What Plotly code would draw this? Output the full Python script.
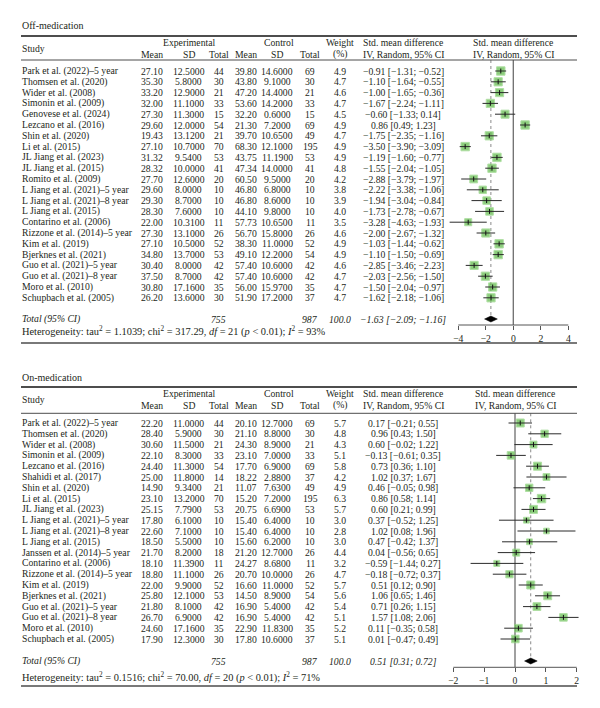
import plotly.graph_objects as go
import numpy as np

# ---------------- data: Off-medication ----------------
off_study = ["Park et al. (2022)–5 year", "Thomsen et al. (2020)", "Wider et al. (2008)",
             "Simonin et al. (2009)", "Genovese et al. (2024)", "Lezcano et al. (2016)",
             "Shin et al. (2020)", "Li et al. (2015)", "JL Jiang et al. (2023)",
             "JL Jiang et al. (2015)", "Romito et al. (2009)", "L Jiang et al. (2021)–5 year",
             "L Jiang et al. (2021)–8 year", "L Jiang et al. (2015)", "Contarino et al. (2006)",
             "Rizzone et al. (2014)–5 year", "Kim et al. (2019)", "Bjerknes et al. (2021)",
             "Guo et al. (2021)–5 year", "Guo et al. (2021)–8 year", "Moro et al. (2010)",
             "Schupbach et al. (2005)"]
off_exp_mean = [27.10, 35.30, 33.20, 32.00, 27.30, 29.60, 19.43, 27.10, 31.32, 28.32, 27.70,
                29.60, 29.30, 28.30, 22.00, 27.30, 27.10, 34.80, 30.40, 37.50, 30.80, 26.20]
off_exp_sd = [12.5, 5.8, 12.9, 11.1, 11.3, 12.0, 13.12, 10.7, 9.54, 10.0, 12.6,
              8.0, 8.7, 7.6, 10.31, 13.1, 10.5, 13.7, 8.0, 8.7, 17.16, 13.6]
off_exp_n = [44, 30, 21, 33, 15, 54, 21, 70, 53, 41, 20, 10, 10, 10, 11, 26, 52, 53, 42, 42, 35, 30]
off_ctl_mean = [39.80, 43.80, 47.20, 53.60, 32.20, 21.30, 39.70, 68.30, 43.75, 47.34, 60.50,
                46.80, 46.80, 44.10, 57.73, 56.70, 38.30, 49.10, 57.40, 57.40, 56.00, 51.90]
off_ctl_sd = [14.6, 9.1, 14.4, 14.2, 0.6, 7.2, 10.65, 12.1, 11.19, 14.0, 9.5,
              6.8, 8.6, 9.8, 10.65, 15.8, 11.0, 12.2, 10.6, 10.6, 15.97, 17.2]
off_ctl_n = [69, 30, 21, 33, 15, 69, 49, 195, 53, 41, 20, 10, 10, 10, 11, 26, 52, 54, 42, 42, 35, 37]
off_weight = [4.9, 4.7, 4.6, 4.7, 4.5, 4.9, 4.7, 4.9, 4.9, 4.8, 4.2,
              3.8, 3.9, 4.0, 3.5, 4.6, 4.9, 4.9, 4.6, 4.7, 4.7, 4.7]
off_smd = [-0.91, -1.10, -1.00, -1.67, -0.60, 0.86, -1.75, -3.50, -1.19, -1.55, -2.88,
           -2.22, -1.94, -1.73, -3.28, -2.00, -1.03, -1.10, -2.85, -2.03, -1.50, -1.62]
off_lo = [-1.31, -1.64, -1.65, -2.24, -1.33, 0.49, -2.35, -3.90, -1.60, -2.04, -3.79,
          -3.38, -3.04, -2.78, -4.63, -2.67, -1.44, -1.50, -3.46, -2.56, -2.04, -2.18]
off_hi = [-0.52, -0.55, -0.36, -1.11, 0.14, 1.23, -1.16, -3.09, -0.77, -1.05, -1.97,
          -1.06, -0.84, -0.67, -1.93, -1.32, -0.62, -0.69, -2.23, -1.50, -0.97, -1.06]
off_total = dict(n_exp=755, n_ctl=987, weight=100.0, est=-1.63, lo=-2.09, hi=-1.16)
off_het = dict(tau2="1.1039", chi2="317.29", df=21, p="0.01", i2=93)
off_ticks = [-4, -2, 0, 2, 4]

# ---------------- data: On-medication ----------------
on_study = ["Park et al. (2022)–5 year", "Thomsen et al. (2020)", "Wider et al. (2008)",
            "Simonin et al. (2009)", "Lezcano et al. (2016)", "Shahidi et al. (2017)",
            "Shin et al. (2020)", "Li et al. (2015)", "JL Jiang et al. (2023)",
            "L Jiang et al. (2021)–5 year", "L Jiang et al. (2021)–8 year", "L Jiang et al. (2015)",
            "Janssen et al. (2014)–5 year", "Contarino et al. (2006)", "Rizzone et al. (2014)–5 year",
            "Kim et al. (2019)", "Bjerknes et al. (2021)", "Guo et al. (2021)–5 year",
            "Guo et al. (2021)–8 year", "Moro et al. (2010)", "Schupbach et al. (2005)"]
on_exp_mean = [22.20, 28.40, 30.60, 22.10, 24.40, 25.00, 14.90, 23.10, 25.15, 17.80, 22.60,
               18.50, 21.70, 18.10, 18.80, 22.00, 25.80, 21.80, 26.70, 24.60, 17.90]
on_exp_sd = [11.0, 5.9, 11.5, 8.3, 11.3, 11.8, 9.34, 13.2, 7.79, 6.1, 7.1,
             5.5, 8.2, 11.39, 11.1, 9.9, 12.1, 8.1, 6.9, 17.16, 12.3]
on_exp_n = [44, 30, 21, 33, 54, 14, 21, 70, 53, 10, 10, 10, 18, 11, 26, 52, 53, 42, 42, 35, 30]
on_ctl_mean = [20.10, 21.10, 24.30, 23.10, 17.70, 18.22, 11.07, 15.20, 20.75, 15.40, 15.40,
               15.60, 21.20, 24.27, 20.70, 16.60, 14.50, 16.90, 16.90, 22.90, 17.80]
on_ctl_sd = [12.7, 8.8, 8.9, 7.0, 6.9, 2.88, 7.63, 7.2, 6.69, 6.4, 6.4,
             6.2, 12.7, 8.68, 10.0, 11.0, 8.9, 5.4, 5.4, 11.83, 10.6]
on_ctl_n = [69, 30, 21, 33, 69, 37, 49, 195, 53, 10, 10, 10, 26, 11, 26, 52, 54, 42, 42, 35, 37]
on_weight = [5.7, 4.8, 4.3, 5.1, 5.8, 4.2, 4.9, 6.3, 5.7, 3.0, 2.8,
             3.0, 4.4, 3.2, 4.7, 5.7, 5.6, 5.4, 5.1, 5.2, 5.1]
on_smd = [0.17, 0.96, 0.60, -0.13, 0.73, 1.02, 0.46, 0.86, 0.60, 0.37, 1.02,
          0.47, 0.04, -0.59, -0.18, 0.51, 1.06, 0.71, 1.57, 0.11, 0.01]
on_lo = [-0.21, 0.43, -0.02, -0.61, 0.36, 0.37, -0.05, 0.58, 0.21, -0.52, 0.08,
         -0.42, -0.56, -1.44, -0.72, 0.12, 0.65, 0.26, 1.08, -0.35, -0.47]
on_hi = [0.55, 1.50, 1.22, 0.35, 1.10, 1.67, 0.98, 1.14, 0.99, 1.25, 1.96,
         1.37, 0.65, 0.27, 0.37, 0.90, 1.46, 1.15, 2.06, 0.58, 0.49]
on_total = dict(n_exp=755, n_ctl=987, weight=100.0, est=0.51, lo=0.31, hi=0.72)
on_het = dict(tau2="0.1516", chi2="70.00", df=20, p="0.01", i2=71)
on_ticks = [-2, -1, 0, 1, 2]

# ---------------- styling / layout ----------------
W, H = 600, 708
FONT = "Liberation Serif"
FS = 9.7
FS_HET = 10.4
FS_TITLE = 10.0
TXT = "#231f20"
GREEN = "#5cb946"
GREEN_EDGE = "#8fd27e"
RULE = "#4d4d4d"

COLX = dict(study=21, exp_mean=152, exp_sd=188.5, exp_n=218.5, ctl_mean=246, ctl_sd=277,
            ctl_n=310, weight=340, smd=403, right=577)


def num(v, d):
    return f"{v:.{d}f}".replace("-", "−")


def ci(e, lo, hi):
    return f"{num(e, 2)} [{num(lo, 2)}; {num(hi, 2)}]"


fig = go.Figure()
annotations = []
shapes = []


def text(x, y, s, anchor="center", size=FS):
    annotations.append(dict(x=x, y=y, xref="x", yref="y", text=s, showarrow=False,
                            xanchor=anchor, yanchor="middle", borderpad=0,
                            font=dict(family=FONT, size=size, color=TXT)))


def rule(y, width=1.0):
    shapes.append(dict(type="line", xref="x", yref="y", x0=COLX["study"], x1=COLX["right"],
                       y0=y, y1=y, line=dict(color=RULE, width=width)))


def panel(title, study, em, esd, en, cm, csd, cn, wt, smd, lo, hi, tot, het, ticks,
          geo, xa, ya, layout_axes):
    t_y, top_y, h1, h2, hr, r0, step, tot_y, het_y, bot_y, ax_y, zero_px, ppu, rng, ydom = geo
    text(COLX["study"], t_y, title, "left", FS_TITLE)
    rule(top_y, 1.8)
    text(COLX["study"], (h1 + h2) / 2, "Study", "left")
    text(189, h1, "Experimental")
    text(279, h1, "Control")
    text(COLX["weight"], h1, "Weight")
    text(COLX["smd"], h1, "Std. mean difference")
    text(zero_px, h1, "Std. mean difference")
    for k, lab in [("exp_mean", "Mean"), ("exp_sd", "SD"), ("exp_n", "Total"),
                   ("ctl_mean", "Mean"), ("ctl_sd", "SD"), ("ctl_n", "Total"),
                   ("weight", "(%)"), ("smd", "IV, Random, 95% CI")]:
        text(COLX[k], h2, lab)
    text(zero_px, h2, "IV, Random, 95% CI")
    rule(hr, 1.0)

    rows = [r0 + i * step for i in range(len(study))]
    for i, y in enumerate(rows):
        text(COLX["study"], y, study[i], "left")
        text(COLX["exp_mean"], y, num(em[i], 2))
        text(COLX["exp_sd"], y, num(esd[i], 4))
        text(COLX["exp_n"], y, str(en[i]))
        text(COLX["ctl_mean"], y, num(cm[i], 2))
        text(COLX["ctl_sd"], y, num(csd[i], 4))
        text(COLX["ctl_n"], y, str(cn[i]))
        text(COLX["weight"], y, num(wt[i], 1))
        text(COLX["smd"], y, ci(smd[i], lo[i], hi[i]))

    text(COLX["study"], tot_y, "<i>Total (95% CI)</i>", "left")
    text(COLX["exp_n"], tot_y, f"<i>{tot['n_exp']}</i>")
    text(COLX["ctl_n"], tot_y, f"<i>{tot['n_ctl']}</i>")
    text(COLX["weight"], tot_y, f"<i>{num(tot['weight'], 1)}</i>")
    text(COLX["smd"], tot_y, f"<i>{ci(tot['est'], tot['lo'], tot['hi'])}</i>")
    text(COLX["study"], het_y,
         f"Heterogeneity: tau<sup>2</sup> = {het['tau2']}; chi<sup>2</sup> = {het['chi2']}, "
         f"<i>df</i> = {het['df']} (<i>p</i> &lt; {het['p']}); <i>I</i><sup>2</sup> = {het['i2']}%",
         "left", FS_HET)
    rule(bot_y, 1.5)

    # ----- forest plot -----
    xs = dict(xaxis=xa, yaxis=ya)
    fig.add_trace(go.Scatter(x=[0, 0], y=[hr, ax_y], mode="lines",
                             line=dict(color="#6d6d6d", width=1.3), hoverinfo="skip", **xs))
    fig.add_trace(go.Scatter(x=[tot["est"], tot["est"]], y=[hr, tot_y - 3], mode="lines",
                             line=dict(color="#8a8a8a", width=1, dash="dot"), hoverinfo="skip", **xs))
    wmax = max(wt)
    sizes = [8.4 * np.sqrt(w / wmax) for w in wt]
    fig.add_trace(go.Scatter(x=smd, y=rows, mode="markers",
                             marker=dict(symbol="square", size=sizes, color=GREEN,
                                         line=dict(color=GREEN_EDGE, width=1)), **xs))
    lx, ly = [], []
    for i, y in enumerate(rows):
        lx += [lo[i], hi[i], None]
        ly += [y, y, None]
    fig.add_trace(go.Scatter(x=lx, y=ly, mode="lines", line=dict(color="#2b2b2b", width=1),
                             hoverinfo="skip", **xs))
    fig.add_trace(go.Scatter(x=smd, y=rows, mode="markers",
                             marker=dict(symbol="line-ns", size=3.5,
                                         line=dict(color="#111111", width=1)), **xs))
    fig.add_trace(go.Scatter(x=[tot["lo"], tot["est"], tot["hi"], tot["est"], tot["lo"]],
                             y=[tot_y, tot_y - 3, tot_y, tot_y + 3, tot_y], mode="lines",
                             fill="toself", fillcolor="#000000",
                             line=dict(color="#000000", width=0.5), **xs))
    fig.add_trace(go.Scatter(x=[ticks[0], ticks[-1]], y=[ax_y, ax_y], mode="lines",
                             line=dict(color="#555555", width=1), hoverinfo="skip", **xs))

    left_px = zero_px + rng[0] * ppu
    right_px = zero_px + rng[1] * ppu
    layout_axes["xaxis" + xa[1:]] = dict(
        domain=[left_px / W, right_px / W], range=rng, anchor="free", position=1 - ax_y / H,
        tickvals=ticks, ticks="outside", ticklen=4, tickwidth=1, tickcolor="#555555",
        showline=False, showgrid=False, zeroline=False,
        tickfont=dict(family=FONT, size=FS, color=TXT))
    layout_axes["yaxis" + ya[1:]] = dict(
        domain=[1 - ydom[1] / H, 1 - ydom[0] / H], range=[ydom[1], ydom[0]],
        anchor=xa, visible=False)


axes = {}
# geometry: title, top rule, header1, header2, header rule, first row, row step,
# total row, heterogeneity row, bottom rule, axis y, zero px, px per unit, range, y pixel domain
panel("Off-medication", off_study, off_exp_mean, off_exp_sd, off_exp_n, off_ctl_mean, off_ctl_sd,
      off_ctl_n, off_weight, off_smd, off_lo, off_hi, off_total, off_het, off_ticks,
      (25, 36, 42.7, 54, 60, 71, 10.8, 319, 331, 343, 325, 513.3, 13.75, [-4.8, 4.8], (50, 340)),
      "x2", "y2", axes)
panel("On-medication", on_study, on_exp_mean, on_exp_sd, on_exp_n, on_ctl_mean, on_ctl_sd,
      on_ctl_n, on_weight, on_smd, on_lo, on_hi, on_total, on_het, on_ticks,
      (377, 387, 393.3, 405, 413.3, 423, 10.8, 661, 677, 686, 667.3, 515, 30.85, [-2.4, 2.4], (405, 680)),
      "x3", "y3", axes)

fig.update_layout(
    width=W, height=H, margin=dict(l=0, r=0, t=0, b=0),
    paper_bgcolor="white", plot_bgcolor="white", showlegend=False,
    xaxis=dict(range=[0, W], domain=[0, 1], visible=False),
    yaxis=dict(range=[H, 0], domain=[0, 1], visible=False),
    annotations=annotations, shapes=shapes,
    **axes)

fig.write_html("out.html", config={"displayModeBar": False},
               post_script="document.body.style.margin='0px';")
